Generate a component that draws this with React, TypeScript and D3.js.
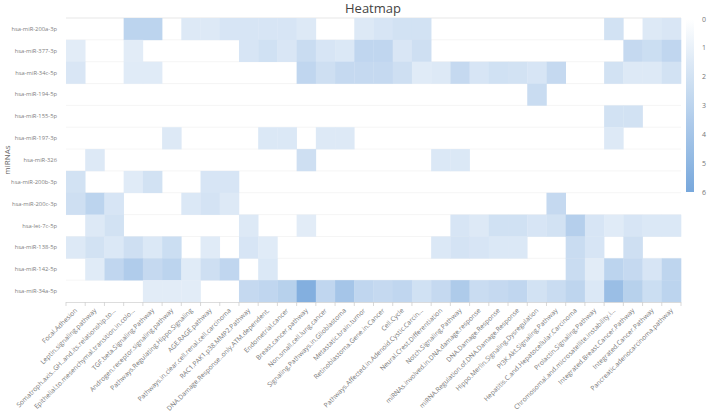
import React from "react";
import * as d3 from "d3";

const title = "Heatmap";
const yTitle = "miRNAs";

const mirnas = [
  "hsa-miR-200a-3p", "hsa-miR-377-3p", "hsa-miR-34c-5p", "hsa-miR-194-5p",
  "hsa-miR-155-5p", "hsa-miR-197-3p", "hsa-miR-326", "hsa-miR-200b-3p",
  "hsa-miR-200c-3p", "hsa-let-7c-5p", "hsa-miR-138-5p", "hsa-miR-142-5p",
  "hsa-miR-34a-5p",
];

const pathways = [
  "Focal.Adhesion",
  "Leptin.signaling.pathway",
  "Somatroph.axis..GH..and.its.relationship.to...",
  "Epithelial.to.mesenchymal.transition.in.colo...",
  "TGF.beta.Signaling.Pathway",
  "Androgen.receptor.signaling.pathway",
  "Pathways.Regulating.Hippo.Signaling",
  "AGE.RAGE.pathway",
  "Pathways.in.clear.cell.renal.cell.carcinoma",
  "RAC1.PAK1.p38.MMP2.Pathway",
  "DNA.Damage.Response..only.ATM.dependent.",
  "Endometrial.cancer",
  "Breast.cancer.pathway",
  "Non.small.cell.lung.cancer",
  "Signaling.Pathways.in.Glioblastoma",
  "Metastatic.brain.tumor",
  "Retinoblastoma.Gene.in.Cancer",
  "Cell.Cycle",
  "Pathways.Affected.in.Adenoid.Cystic.Carcin...",
  "Neural.Crest.Differentiation",
  "Notch.Signaling.Pathway",
  "miRNAs.involved.in.DNA.damage.response",
  "DNA.Damage.Response",
  "miRNA.Regulation.of.DNA.Damage.Response",
  "Hippo.Merlin.Signaling.Dysregulation",
  "PI3K.Akt.Signaling.Pathway",
  "Hepatitis.C.and.Hepatocellular.Carcinoma",
  "Prolactin.Signaling.Pathway",
  "Chromosomal.and.microsatellite.instability.i...",
  "Integrated.Breast.Cancer.Pathway",
  "Integrated.Cancer.Pathway",
  "Pancreatic.adenocarcinoma.pathway",
];

// one row per miRNA, 32 pathway values each
const miR200a3p = [0,0,0,3,3,0,1.5,1.5,1.8,1.8,1.8,1.8,1.5,0,0,1.5,1.8,2,2,0,0,0,0,0,0,0,0,0,2,0,1.5,1.7];
const miR3773p = [1.3,0,0,1.3,0,0,0,0,0,1.8,2.1,1.7,2.4,1.8,1.6,2.8,2.8,1.7,2.2,0,0,0,0,0,0,0,0,0,0,2.6,2.3,2.8];
const miR34c5p = [1.7,0,0,1.4,1.4,0,0,0,0,0,0,0,2.8,2.2,2.6,2.6,2.6,2.2,1.4,1.5,2.6,1.8,2.1,2.0,1.8,2.6,0,0,2.0,1.5,1.5,2.0];
const miR1945p = [0,0,0,0,0,0,0,0,0,0,0,0,0,0,0,0,0,0,0,0,0,0,0,0,2.4,0,0,0,0,0,0,0];
const miR1555p = [0,0,0,0,0,0,0,0,0,0,0,0,0,0,0,0,0,0,0,0,0,0,0,0,0,0,0,0,2,2,0,0];
const miR1973p = [0,0,0,0,0,1.5,0,0,0,0,1.6,1.6,0,1.5,1.5,0,0,0,0,0,0,0,0,0,0,0,0,0,1.5,0,0,0];
const miR326 = [0,1.5,0,0,0,0,0,0,0,0,0,0,2.2,0,0,0,0,0,0,1.6,1.6,0,0,0,0,0,0,0,0,0,0,0];
const miR200b3p = [2.0,0,0,1.4,2.0,0,0,1.8,1.8,0,0,0,0,0,0,0,0,0,0,0,0,0,0,0,0,0,0,0,0,0,0,0];
const miR200c3p = [2.2,3.0,1.8,0,0,0,1.6,1.9,1.5,0,0,0,0,0,0,0,0,0,0,0,0,0,0,0,0,2.6,0,0,0,0,0,0];
const let7c5p = [0,1.5,2.0,0,0,0,0,0,0,1.5,0,0,1.3,0,0,0,0,0,0,0,1.8,1.5,2.1,2.1,1.8,2.0,3.3,1.8,1.4,1.8,1.6,1.6];
const miR1385p = [1.5,2.0,1.6,2.2,1.6,2.3,0,1.4,0,1.8,1.4,0,0,0,0,0,0,0,0,1.6,1.9,1.8,1.6,1.6,0,0,2.4,1.8,0,2.2,0,0];
const miR1425p = [0,1.4,2.8,3.5,2.6,3.0,1.4,2.2,2.8,0,1.6,0,0,0,0,0,0,0,0,0,0,0,0,0,0,0,2.4,1.3,3.0,2.6,1.8,2.9];
const miR34a5p = [0,0,0,0,1.3,1.3,1.3,0,0,2.6,2.8,3.2,5.5,2.8,4.0,2.8,2.6,2.8,2.1,2.6,3.6,2.4,2.6,2.8,2.0,2.4,2.9,1.6,4.5,3.2,2.3,3.0];

const values = [
  miR200a3p, miR3773p, miR34c5p, miR1945p, miR1555p, miR1973p, miR326,
  miR200b3p, miR200c3p, let7c5p, miR1385p, miR1425p, miR34a5p,
];

const colorTicks = [0, 1, 2, 3, 4, 5, 6];

const W = 708;
const H = 418;
const M = { left: 66, right: 681, top: 18, bottom: 302 };
const FONT = "'Open Sans', 'Liberation Sans', Arial, sans-serif";

export default function App() {
  const x = d3.scaleBand<string>().domain(pathways).range([M.left, M.right]).padding(0);
  const y = d3.scaleBand<string>().domain(mirnas).range([M.top, M.bottom]).padding(0);
  const color = d3.scaleLinear<string>().domain([0, 6]).range(["#ffffff", "#78a8dc"]).clamp(true);

  const cb = { x: 686, w: 8, top: 19, bottom: 192 };
  const cy = d3.scaleLinear().domain([0, 6]).range([cb.top, cb.bottom]);
  const gradStops = d3.range(0, 6.01, 0.5);

  const cells: React.ReactElement[] = [];
  values.forEach((row, j) => {
    row.forEach((v, i) => {
      if (v <= 0) return;
      cells.push(
        <rect
          key={`${j}-${i}`}
          x={x(pathways[i])!}
          y={y(mirnas[j])!}
          width={x.bandwidth() + 0.3}
          height={y.bandwidth() + 0.3}
          fill={color(v)}
        />
      );
    });
  });

  const bw = x.bandwidth();

  return (
    <svg width={W} height={H} style={{ display: "block", position: "absolute", left: 0, top: 0, background: "#fff" }} fontFamily={FONT}>
      <defs>
        <linearGradient id="cbgrad" x1="0" y1="0" x2="0" y2="1">
          {gradStops.map((s) => (
            <stop key={s} offset={`${(s / 6) * 100}%`} stopColor={color(s)} />
          ))}
        </linearGradient>
      </defs>
      <text x={373} y={13} textAnchor="middle" fontSize={13} fill="#444">{title}</text>

      {/* faint row grid */}
      {mirnas.map((m) => (
        <line key={"g" + m} x1={M.left} x2={M.right} y1={y(m)!} y2={y(m)!} stroke="#f3f3f3" strokeWidth={0.8} />
      ))}
      <line x1={M.left} x2={M.right} y1={M.top} y2={M.top} stroke="#e8e8e8" strokeWidth={0.8} />

      <g>{cells}</g>

      {/* x axis */}
      <line x1={M.left} x2={M.right} y1={M.bottom + 0.5} y2={M.bottom + 0.5} stroke="#d4d4d4" strokeWidth={0.8} />
      {pathways.map((p, i) => (
        <line key={"t" + i} x1={x(p)!} x2={x(p)!} y1={M.bottom} y2={M.bottom + 4} stroke="#cfcfcf" strokeWidth={0.8} />
      ))}
      <line x1={M.right} x2={M.right} y1={M.bottom} y2={M.bottom + 4} stroke="#cfcfcf" strokeWidth={0.8} />
      {pathways.map((p) => {
        const cx = x(p)! + bw / 2 + 2;
        const ty = M.bottom + 9;
        return (
          <text
            key={"xl" + p}
            x={cx}
            y={ty}
            transform={`rotate(-45 ${cx} ${ty})`}
            textAnchor="end"
            fontSize={6.6}
            fill="#777"
          >
            {p}
          </text>
        );
      })}

      {/* y axis labels */}
      {mirnas.map((m) => (
        <text key={"yl" + m} x={57} y={y(m)! + y.bandwidth() / 2 + 2} textAnchor="end" fontSize={5.8} fill="#808080">
          {m}
        </text>
      ))}
      <text transform={`translate(10 ${(M.top + M.bottom) / 2}) rotate(-90)`} textAnchor="middle" fontSize={8} fill="#666">
        {yTitle}
      </text>

      {/* colorbar */}
      <rect x={cb.x} y={cb.top} width={cb.w} height={cb.bottom - cb.top} fill="url(#cbgrad)" />
      {colorTicks.map((t) => (
        <text key={"ct" + t} x={702} y={cy(t) + 2.5} fontSize={7} fill="#777">{t}</text>
      ))}
    </svg>
  );
}
